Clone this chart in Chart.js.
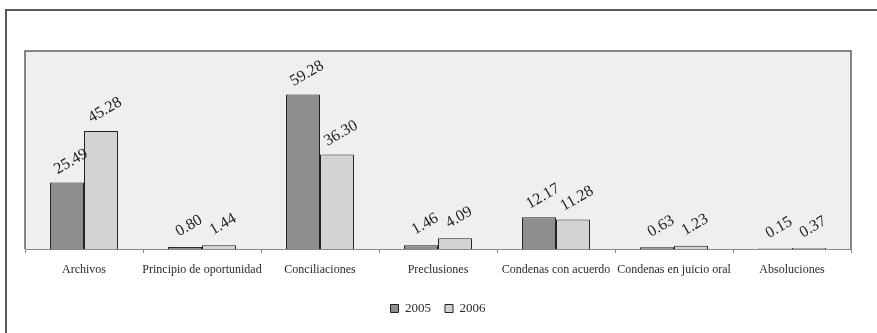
<!DOCTYPE html>
<html>
<head>
<meta charset="utf-8">
<script src="https://cdn.jsdelivr.net/npm/chart.js@4/dist/chart.umd.min.js"></script>
<style>
  html, body { margin: 0; padding: 0; background: #ffffff; overflow: hidden; }
  #wrap { position: relative; width: 877px; height: 333px; }
  #frame { position: absolute; left: 5px; top: 9px; width: 1000px; height: 1000px;
           border: 2px solid #5a5a5a; box-sizing: border-box; }
  #c { position: absolute; left: 0; top: 0; }
</style>
</head>
<body>
<div id="wrap">
  <div id="frame"></div>
  <canvas id="c" width="877" height="333"></canvas>
</div>
<script>
// Categories and yearly percentages
const categories = [
  'Archivos',
  'Principio de oportunidad',
  'Conciliaciones',
  'Preclusiones',
  'Condenas con acuerdo',
  'Condenas en juicio oral',
  'Absoluciones'
];
const seriesLabels = ['2005', '2006'];
const values2005 = [25.49, 0.80, 59.28, 1.46, 12.17, 0.63, 0.15];
const values2006 = [45.28, 1.44, 36.30, 4.09, 11.28, 1.23, 0.37];

const SERIF = '"Liberation Serif", "Times New Roman", serif';

// Shaded plot area with a thin frame
const plotBackground = {
  id: 'plotBackground',
  beforeDraw(chart) {
    const { ctx, chartArea: a } = chart;
    ctx.save();
    ctx.fillStyle = '#eeeff1';
    ctx.fillRect(a.left, a.top, a.right - a.left, a.bottom - a.top);
    ctx.strokeStyle = '#606060';
    ctx.lineWidth = 1.5;
    ctx.beginPath();
    ctx.moveTo(a.left, a.bottom);
    ctx.lineTo(a.left, a.top);
    ctx.lineTo(a.right, a.top);
    ctx.lineTo(a.right, a.bottom);
    ctx.stroke();
    ctx.restore();
  }
};

// Slanted value labels above each bar
const valueLabels = {
  id: 'valueLabels',
  afterDatasetsDraw(chart) {
    const { ctx } = chart;
    ctx.save();
    ctx.font = '16px ' + SERIF;
    ctx.fillStyle = '#222222';
    ctx.textAlign = 'center';
    ctx.textBaseline = 'middle';
    chart.data.datasets.forEach((ds, di) => {
      const meta = chart.getDatasetMeta(di);
      meta.data.forEach((bar, i) => {
        ctx.save();
        ctx.translate(bar.x + 4, bar.y - 21);
        ctx.rotate(-Math.PI / 6);
        ctx.fillText(ds.data[i].toFixed(2), 0, 0);
        ctx.restore();
      });
    });
    ctx.restore();
  }
};

new Chart(document.getElementById('c'), {
  type: 'bar',
  data: {
    labels: categories,
    datasets: [
      { label: seriesLabels[0], data: values2005, backgroundColor: '#8f8f91',
        borderColor: '#222222', borderWidth: 1 },
      { label: seriesLabels[1], data: values2006, backgroundColor: '#d3d3d5',
        borderColor: '#222222', borderWidth: 1 }
    ]
  },
  options: {
    responsive: false,
    animation: false,
    devicePixelRatio: 1,
    layout: { padding: { left: 25, right: 26, top: 51, bottom: 8 } },
    datasets: { bar: { categoryPercentage: 0.576, barPercentage: 1.0 } },
    scales: {
      x: {
        afterFit(scale) { scale.height = 39; },
        border: { color: '#8a8a8a', width: 1 },
        grid: { drawOnChartArea: false, offset: true, tickLength: 4, color: '#8a8a8a' },
        ticks: {
          autoSkip: false, maxRotation: 0, minRotation: 0, padding: 10,
          color: '#2a2a2a', font: { family: SERIF, size: 12 }
        }
      },
      y: { display: false, min: 0, max: 76 }
    },
    plugins: {
      tooltip: { enabled: false },
      legend: {
        position: 'bottom',
        labels: {
          boxWidth: 8, boxHeight: 8, padding: 14,
          color: '#2a2a2a', font: { family: SERIF, size: 13 }
        }
      }
    }
  },
  plugins: [plotBackground, valueLabels]
});
</script>
</body>
</html>
